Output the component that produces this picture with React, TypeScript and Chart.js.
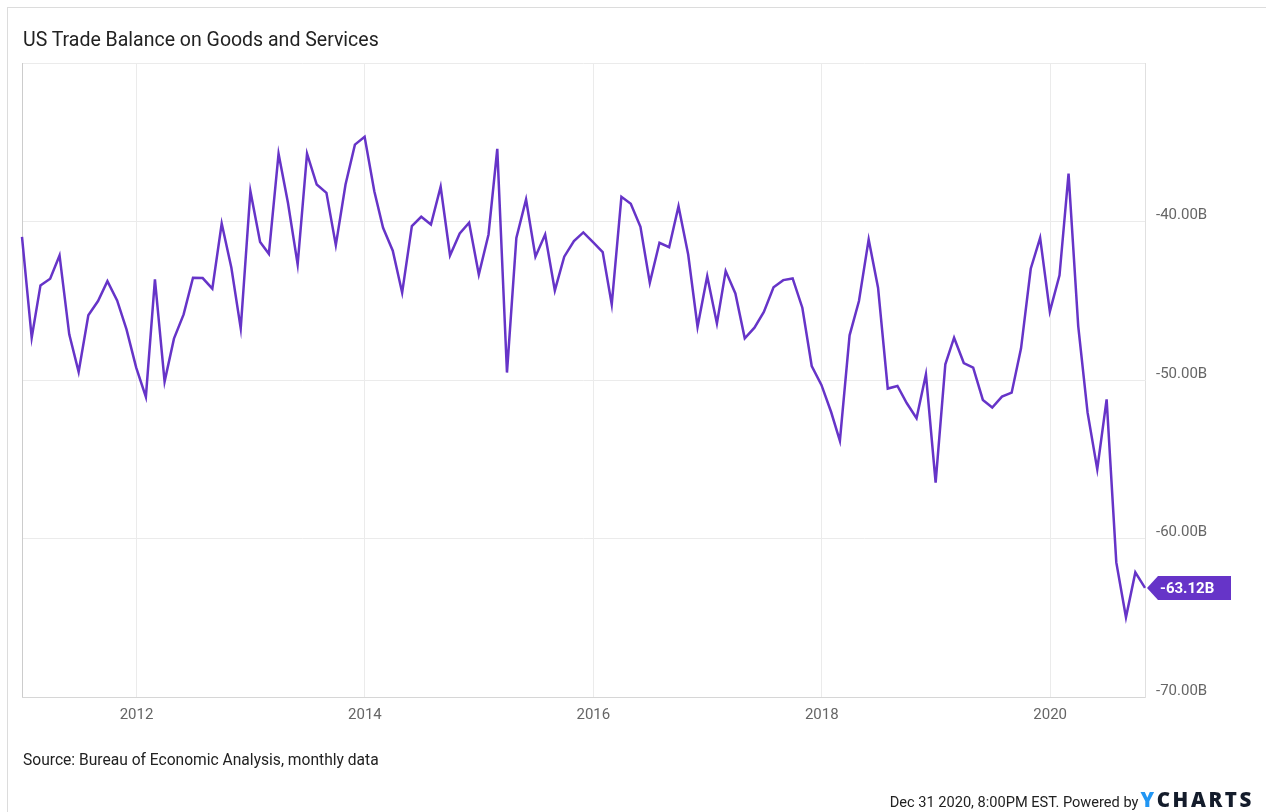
import React, { useEffect, useRef } from "react";
import { Chart, registerables } from "chart.js";

Chart.register(...registerables);

// ---- Data (US trade balance, billions USD, end-of-month) ----
const START_YEAR = 2010;
const START_MONTH = 12;
const bal2010 = [-40.97];
const bal2011 = [-47.33, -44.03, -43.61, -42.14, -47.12, -49.49, -45.92, -45.02, -43.76, -44.98, -46.81, -49.22];
const bal2012 = [-51.07, -43.65, -50.1, -47.39, -45.86, -43.55, -43.57, -44.24, -40.13, -42.92, -46.74, -38.09];
const bal2013 = [-41.3, -42.04, -35.72, -38.82, -42.71, -35.72, -37.67, -38.19, -41.49, -37.67, -35.15, -34.66];
const bal2014 = [-38.09, -40.4, -41.84, -44.49, -40.29, -39.7, -40.19, -37.81, -42.14, -40.76, -40.08, -43.34];
const bal2015 = [-40.82, -35.42, -49.53, -41.03, -38.61, -42.22, -40.82, -44.35, -42.22, -41.24, -40.69, -41.3];
const bal2016 = [-41.93, -45.23, -38.44, -38.88, -40.33, -43.86, -41.34, -41.62, -39.04, -42.08, -46.64, -43.45];
const bal2017 = [-46.43, -43.13, -44.54, -47.37, -46.7, -45.71, -44.15, -43.7, -43.59, -45.44, -49.12, -50.31];
const bal2018 = [-52.02, -53.84, -47.18, -45.02, -41.13, -44.18, -50.54, -50.38, -51.47, -52.41, -49.64, -56.47];
const bal2019 = [-49.01, -47.33, -48.93, -49.22, -51.26, -51.74, -51.05, -50.8, -48.0, -42.98, -41.03, -45.69];
const bal2020 = [-43.4, -36.98, -46.6, -52.06, -55.63, -51.22, -61.51, -64.97, -62.14, -63.12];

const balance = [
  ...bal2010, ...bal2011, ...bal2012, ...bal2013, ...bal2014, ...bal2015,
  ...bal2016, ...bal2017, ...bal2018, ...bal2019, ...bal2020,
];

const xTickYears = [2012, 2014, 2016, 2018, 2020];
const yTickValues = [-70, -60, -50, -40, -30];
const yLabelValues = [-70, -60, -50, -40];
const Y_MIN = -70;
const Y_MAX = -30;

const LINE_COLOR = "#6634c8";
const FONT = "Roboto";

// end-of-month date as fractional year
function monthEndYear(i: number): number {
  const m0 = START_MONTH - 1 + i;
  const y = START_YEAR + Math.floor(m0 / 12);
  const m = (m0 % 12) + 1;
  const end = Date.UTC(y, m, 0);
  const s = Date.UTC(y, 0, 1);
  const n = Date.UTC(y + 1, 0, 1);
  return y + (end - s) / (n - s);
}

const points = balance.map((v, i) => ({ x: monthEndYear(i), y: v }));

const framePlugin = {
  id: "frame",
  beforeDatasetsDraw(chart: any) {
    const { ctx, chartArea: a } = chart;
    ctx.save();
    ctx.strokeStyle = "#cccccc";
    ctx.lineWidth = 1;
    ctx.beginPath();
    ctx.moveTo(Math.round(a.left) + 0.5, a.top);
    ctx.lineTo(Math.round(a.left) + 0.5, a.bottom);
    ctx.stroke();
    ctx.restore();
  },
  afterDatasetsDraw(chart: any) {
    const { ctx } = chart;
    const meta = chart.getDatasetMeta(0);
    const last = meta.data[meta.data.length - 1];
    if (!last) return;
    const tipX = last.x + 2;
    const y = last.y;
    const boxL = tipX + 11;
    const boxR = boxL + 73;
    const h = 12;
    ctx.save();
    ctx.fillStyle = LINE_COLOR;
    ctx.beginPath();
    ctx.moveTo(tipX, y);
    ctx.lineTo(boxL, y - h);
    ctx.lineTo(boxR, y - h);
    ctx.lineTo(boxR, y + h);
    ctx.lineTo(boxL, y + h);
    ctx.closePath();
    ctx.fill();
    ctx.fillStyle = "#ffffff";
    ctx.font = `bold 15px ${FONT}`;
    ctx.textAlign = "left";
    ctx.textBaseline = "middle";
    ctx.fillText(`${balance[balance.length - 1].toFixed(2)}B`, boxL + 2, y + 1);
    ctx.restore();
  },
};

function TradeChart() {
  const ref = useRef<HTMLCanvasElement | null>(null);
  useEffect(() => {
    if (!ref.current) return;
    const chart = new Chart(ref.current, {
      type: "line",
      data: {
        datasets: [
          {
            data: points,
            borderColor: LINE_COLOR,
            borderWidth: 2.5,
            pointRadius: 0,
            tension: 0,
            fill: false,
            clip: 6,
          },
        ],
      },
      options: {
        responsive: false,
        animation: false,
        events: [],
        layout: { padding: { left: 22, top: 63, right: 0, bottom: 55 } },
        plugins: { legend: { display: false }, tooltip: { enabled: false }, title: { display: false } },
        scales: {
          x: {
            type: "linear",
            min: points[0].x,
            max: points[points.length - 1].x,
            afterFit: (s: any) => {
              s.height = 60;
            },
            afterBuildTicks: (s: any) => {
              s.ticks = xTickYears.map((v) => ({ value: v }));
            },
            ticks: {
              callback: (v: any) => String(v),
              color: "#666666",
              font: { family: FONT, size: 15 },
              padding: 9,
              maxRotation: 0,
            },
            grid: { color: "#ebebeb", lineWidth: 1, drawTicks: false },
            border: { display: true, color: "#d6d6d6" },
          },
          y: {
            position: "right",
            min: Y_MIN,
            max: Y_MAX,
            afterFit: (s: any) => {
              s.width = 121;
            },
            afterBuildTicks: (s: any) => {
              s.ticks = yTickValues.map((v) => ({ value: v }));
            },
            ticks: {
              callback: (v: any) => (yLabelValues.includes(Number(v)) ? `${Number(v).toFixed(2)}B` : ""),
              color: "#666666",
              font: { family: FONT, size: 15 },
              padding: 11,
              labelOffset: -6,
            },
            grid: { color: "#ebebeb", lineWidth: 1, drawTicks: false },
            border: { display: true, color: "#e0e0e0" },
          },
        },
      },
      plugins: [framePlugin],
    } as any);
    return () => chart.destroy();
  }, []);
  return <canvas ref={ref} width={1266} height={812} style={{ position: "absolute", left: 0, top: 0, width: 1266, height: 812 }} />;
}

export default function App() {
  return (
    <div
      style={{
        position: "absolute",
        left: 0,
        top: 0,
        width: 1266,
        height: 812,
        background: "#ffffff",
        overflow: "hidden",
        fontFamily: FONT,
      }}
    >
      <div
        style={{
          position: "absolute",
          left: 7,
          top: 7,
          right: 0,
          bottom: 0,
          borderTop: "1px solid #dcdcdc",
          borderLeft: "1px solid #dcdcdc",
        }}
      />
      <TradeChart />
      <div
        style={{
          position: "absolute",
          left: 23,
          top: 28,
          fontSize: 19.5,
          lineHeight: "24px",
          color: "#222222",
          whiteSpace: "nowrap",
        }}
      >
        US Trade Balance on Goods and Services
      </div>
      <div
        style={{
          position: "absolute",
          left: 23,
          top: 750,
          fontSize: 15.6,
          lineHeight: "20px",
          color: "#222222",
          whiteSpace: "nowrap",
        }}
      >
        Source: Bureau of Economic Analysis, monthly data
      </div>
      <div
        style={{
          position: "absolute",
          right: 12,
          top: 789,
          fontSize: 14.6,
          lineHeight: "20px",
          color: "#222222",
          whiteSpace: "nowrap",
          display: "flex",
          alignItems: "baseline",
        }}
      >
        <span>Dec 31 2020, 8:00PM EST. Powered by</span>
        <span style={{ fontFamily: "'Open Sans', 'DejaVu Sans', sans-serif", fontWeight: 800, fontSize: 20.5, letterSpacing: 2.6, marginLeft: 2 }}>
          <span style={{ color: "#2196f3" }}>Y</span>
          <span style={{ color: "#141c2b" }}>CHARTS</span>
        </span>
      </div>
    </div>
  );
}
